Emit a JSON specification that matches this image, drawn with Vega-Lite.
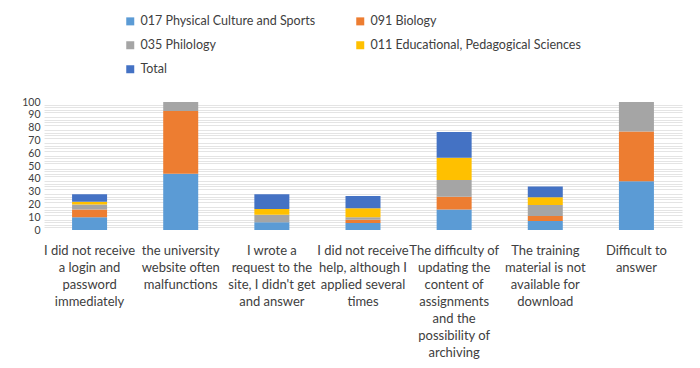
{
  "$schema": "https://vega.github.io/schema/vega-lite/v6.json",
  "width": 638,
  "height": 128,
  "autosize": {"type": "none"},
  "padding": {"left": 44, "top": 102, "right": 18, "bottom": 138},
  "background": "white",
  "config": {
    "view": {"stroke": null},
    "font": "Lato",
    "axis": {"labelFont": "Lato", "labelColor": "#404040", "labelFontSize": 13},
    "legend": {"labelFont": "Lato"}
  },
  "data": {
    "values": [
      {"q": "I did not receive|a login and|password|immediately", "s": "017 Physical Culture and Sports", "o": 1, "v": 10},
      {"q": "I did not receive|a login and|password|immediately", "s": "091 Biology", "o": 2, "v": 6},
      {"q": "I did not receive|a login and|password|immediately", "s": "035 Philology", "o": 3, "v": 4},
      {"q": "I did not receive|a login and|password|immediately", "s": "011 Educational, Pedagogical Sciences", "o": 4, "v": 2},
      {"q": "I did not receive|a login and|password|immediately", "s": "Total", "o": 5, "v": 6},
      {"q": "the university|website often|malfunctions", "s": "017 Physical Culture and Sports", "o": 1, "v": 44},
      {"q": "the university|website often|malfunctions", "s": "091 Biology", "o": 2, "v": 49},
      {"q": "the university|website often|malfunctions", "s": "035 Philology", "o": 3, "v": 7},
      {"q": "the university|website often|malfunctions", "s": "011 Educational, Pedagogical Sciences", "o": 4, "v": 0},
      {"q": "the university|website often|malfunctions", "s": "Total", "o": 5, "v": 0},
      {"q": "I wrote a|request to the|site, I didn't get|and answer", "s": "017 Physical Culture and Sports", "o": 1, "v": 6},
      {"q": "I wrote a|request to the|site, I didn't get|and answer", "s": "091 Biology", "o": 2, "v": 0},
      {"q": "I wrote a|request to the|site, I didn't get|and answer", "s": "035 Philology", "o": 3, "v": 6},
      {"q": "I wrote a|request to the|site, I didn't get|and answer", "s": "011 Educational, Pedagogical Sciences", "o": 4, "v": 4.5},
      {"q": "I wrote a|request to the|site, I didn't get|and answer", "s": "Total", "o": 5, "v": 11.5},
      {"q": "I did not receive|help, although I|applied several|times", "s": "017 Physical Culture and Sports", "o": 1, "v": 5.5},
      {"q": "I did not receive|help, although I|applied several|times", "s": "091 Biology", "o": 2, "v": 2.5},
      {"q": "I did not receive|help, although I|applied several|times", "s": "035 Philology", "o": 3, "v": 2},
      {"q": "I did not receive|help, although I|applied several|times", "s": "011 Educational, Pedagogical Sciences", "o": 4, "v": 7},
      {"q": "I did not receive|help, although I|applied several|times", "s": "Total", "o": 5, "v": 9.5},
      {"q": "The difficulty of|updating the|content of|assignments|and the|possibility of|archiving", "s": "017 Physical Culture and Sports", "o": 1, "v": 16},
      {"q": "The difficulty of|updating the|content of|assignments|and the|possibility of|archiving", "s": "091 Biology", "o": 2, "v": 10},
      {"q": "The difficulty of|updating the|content of|assignments|and the|possibility of|archiving", "s": "035 Philology", "o": 3, "v": 13},
      {"q": "The difficulty of|updating the|content of|assignments|and the|possibility of|archiving", "s": "011 Educational, Pedagogical Sciences", "o": 4, "v": 17.5},
      {"q": "The difficulty of|updating the|content of|assignments|and the|possibility of|archiving", "s": "Total", "o": 5, "v": 20},
      {"q": "The training|material is not|available for|download", "s": "017 Physical Culture and Sports", "o": 1, "v": 7},
      {"q": "The training|material is not|available for|download", "s": "091 Biology", "o": 2, "v": 4},
      {"q": "The training|material is not|available for|download", "s": "035 Philology", "o": 3, "v": 8.5},
      {"q": "The training|material is not|available for|download", "s": "011 Educational, Pedagogical Sciences", "o": 4, "v": 6},
      {"q": "The training|material is not|available for|download", "s": "Total", "o": 5, "v": 8.5},
      {"q": "Difficult to|answer", "s": "017 Physical Culture and Sports", "o": 1, "v": 38},
      {"q": "Difficult to|answer", "s": "091 Biology", "o": 2, "v": 39},
      {"q": "Difficult to|answer", "s": "035 Philology", "o": 3, "v": 23},
      {"q": "Difficult to|answer", "s": "011 Educational, Pedagogical Sciences", "o": 4, "v": 0},
      {"q": "Difficult to|answer", "s": "Total", "o": 5, "v": 0}
    ]
  },
  "encoding": {
    "x": {
      "field": "q", "type": "nominal", "sort": null, "title": null,
      "axis": {
        "labelAngle": 0, "ticks": false, "domain": false,
        "labelExpr": "split(datum.label, '|')",
        "labelFontSize": 13, "labelLineHeight": 17, "labelPadding": 14,
        "labelLimit": 200, "labelColor": "#404040"
      }
    },
    "color": {
      "field": "s", "type": "nominal",
      "scale": {
        "domain": ["017 Physical Culture and Sports", "091 Biology", "035 Philology", "011 Educational, Pedagogical Sciences", "Total"],
        "range": ["#5B9BD5", "#ED7D31", "#A5A5A5", "#FFC000", "#4472C4"]
      },
      "legend": {
        "title": null, "orient": "none", "legendX": 80, "legendY": -87,
        "columns": 2, "columnPadding": 38, "rowPadding": 11,
        "values": ["017 Physical Culture and Sports", "035 Philology", "Total", "091 Biology", "011 Educational, Pedagogical Sciences"],
        "symbolType": "square", "symbolSize": 64, "symbolStrokeWidth": 0,
        "labelFontSize": 12.5, "labelColor": "#404040", "labelLimit": 300, "labelOffset": 4
      }
    },
    "order": {"field": "o", "type": "quantitative", "aggregate": "min"}
  },
  "layer": [
    {
      "mark": {"type": "bar", "width": 35, "opacity": 0},
      "encoding": {
        "y": {
          "field": "v", "type": "quantitative", "aggregate": "sum", "stack": "zero",
          "title": null,
          "scale": {"domain": [0, 100], "nice": false},
          "axis": {
            "orient": "right",
            "values": [2,4,6,8,12,14,16,18,22,24,26,28,32,34,36,38,42,44,46,48,52,54,56,58,62,64,66,68,72,74,76,78,82,84,86,88,92,94,96,98],
            "labels": false, "ticks": false, "domain": false,
            "gridColor": "#e4e4e4", "gridWidth": 1
          }
        }
      }
    },
    {
      "mark": {"type": "bar", "width": 35},
      "encoding": {
        "y": {
          "field": "v", "type": "quantitative", "aggregate": "sum", "stack": "zero",
          "title": null,
          "scale": {"domain": [0, 100], "nice": false},
          "axis": {
            "orient": "left",
            "values": [0,10,20,30,40,50,60,70,80,90,100],
            "labelOverlap": false,
            "ticks": false, "domain": false, "labelPadding": 4,
            "labelFontSize": 10.5, "labelColor": "#404040",
            "gridColor": "#cfcfcf", "gridWidth": 1
          }
        }
      }
    }
  ],
  "resolve": {"axis": {"y": "independent"}, "scale": {"y": "shared"}}
}
